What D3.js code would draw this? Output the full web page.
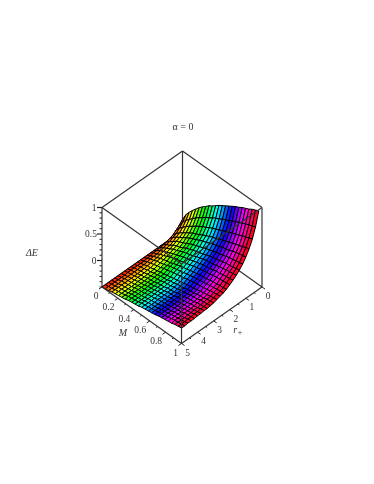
<!DOCTYPE html>
<html>
<head>
<meta charset="utf-8">
<style>
  html, body { margin:0; padding:0; background:#fff; }
  svg { display:block; filter:blur(.35px); }
  text { font-family:"Liberation Serif", serif; fill:#333; }
</style>
<script src="https://d3js.org/d3.v7.min.js"></script>
</head>
<body>
<div id="plot"></div>
<script>
// ---- data ----
const massValues = [0,.0417,.0833,.125,.1667,.2083,.25,.2917,.3333,.375,.4167,.4583,.5,.5417,.5833,.625,.6667,.7083,.75,.7917,.8333,.875,.9167,.9583,1];
const radiusValues = [.2,.4,.6,.8,1,1.2,1.4,1.6,1.8,2,2.2,2.4,2.6,2.8,3,3.2,3.4,3.6,3.8,4,4.2,4.4,4.6,4.8,5];
// one row per radius, one column per mass
const deltaE = [
[-.50,-.20,-.07,.02,.10,.17,.24,.30,.35,.41,.45,.50,.55,.59,.63,.67,.71,.75,.78,.82,.85,.88,.92,.95,.98],
[-.50,-.27,-.17,-.09,-.03,.03,.09,.14,.18,.23,.27,.31,.35,.38,.42,.45,.48,.52,.55,.58,.61,.64,.67,.69,.72],
[-.50,-.32,-.24,-.18,-.12,-.07,-.03,.02,.06,.10,.13,.17,.20,.23,.26,.29,.32,.35,.38,.40,.43,.46,.48,.51,.53],
[-.50,-.37,-.30,-.24,-.20,-.15,-.11,-.07,-.04,-.01,.03,.06,.09,.12,.14,.17,.20,.22,.25,.27,.30,.32,.34,.37,.39],
[-.50,-.39,-.33,-.28,-.24,-.20,-.16,-.12,-.09,-.06,-.03,.00,.02,.05,.08,.10,.12,.15,.16,.18,.21,.23,.25,.26,.28],
[-.50,-.42,-.36,-.32,-.27,-.24,-.21,-.18,-.14,-.11,-.09,-.06,-.04,-.01,.01,.03,.06,.07,.09,.11,.13,.14,.16,.17,.19],
[-.50,-.43,-.38,-.35,-.30,-.27,-.25,-.22,-.18,-.16,-.13,-.11,-.09,-.07,-.04,-.02,.00,.01,.03,.05,.07,.07,.09,.10,.12],
[-.50,-.44,-.40,-.36,-.33,-.29,-.27,-.24,-.21,-.19,-.17,-.15,-.12,-.10,-.08,-.06,-.05,-.04,-.02,.00,.01,.03,.04,.05,.06],
[-.50,-.45,-.41,-.38,-.35,-.32,-.29,-.27,-.24,-.22,-.20,-.18,-.16,-.14,-.12,-.10,-.09,-.08,-.06,-.04,-.04,-.02,-.01,.00,.01],
[-.50,-.45,-.43,-.39,-.37,-.34,-.31,-.29,-.26,-.25,-.23,-.21,-.19,-.17,-.15,-.14,-.12,-.11,-.10,-.08,-.07,-.06,-.05,-.04,-.03],
[-.50,-.47,-.43,-.41,-.38,-.36,-.34,-.33,-.30,-.28,-.26,-.24,-.23,-.21,-.19,-.18,-.16,-.16,-.14,-.13,-.11,-.11,-.09,-.09,-.07],
[-.50,-.47,-.44,-.42,-.39,-.38,-.36,-.34,-.31,-.30,-.28,-.27,-.25,-.23,-.22,-.20,-.19,-.18,-.17,-.15,-.14,-.13,-.12,-.11,-.10],
[-.50,-.48,-.45,-.43,-.41,-.39,-.38,-.35,-.34,-.32,-.30,-.29,-.27,-.26,-.24,-.23,-.21,-.20,-.19,-.18,-.17,-.15,-.14,-.13,-.12],
[-.50,-.48,-.46,-.44,-.43,-.41,-.40,-.38,-.37,-.35,-.34,-.32,-.31,-.29,-.28,-.26,-.25,-.24,-.22,-.21,-.19,-.18,-.17,-.15,-.14],
[-.50,-.48,-.46,-.45,-.43,-.42,-.40,-.39,-.37,-.36,-.35,-.33,-.32,-.30,-.29,-.28,-.26,-.25,-.24,-.22,-.21,-.20,-.18,-.17,-.16],
[-.50,-.48,-.47,-.45,-.44,-.42,-.41,-.39,-.38,-.37,-.35,-.34,-.33,-.31,-.30,-.28,-.27,-.26,-.24,-.23,-.22,-.20,-.19,-.18,-.17],
[-.50,-.48,-.47,-.46,-.44,-.43,-.41,-.40,-.39,-.37,-.36,-.35,-.33,-.32,-.31,-.29,-.28,-.27,-.25,-.24,-.23,-.21,-.20,-.19,-.18],
[-.50,-.48,-.47,-.46,-.44,-.43,-.42,-.40,-.39,-.38,-.36,-.35,-.34,-.32,-.31,-.30,-.28,-.27,-.26,-.25,-.23,-.22,-.21,-.19,-.18],
[-.50,-.49,-.47,-.46,-.45,-.43,-.42,-.41,-.39,-.38,-.37,-.35,-.34,-.33,-.32,-.30,-.29,-.28,-.26,-.25,-.24,-.23,-.21,-.20,-.19],
[-.50,-.49,-.47,-.46,-.45,-.44,-.42,-.41,-.40,-.38,-.37,-.36,-.34,-.33,-.32,-.31,-.29,-.28,-.27,-.26,-.24,-.23,-.22,-.20,-.19],
[-.50,-.49,-.47,-.46,-.45,-.44,-.42,-.41,-.40,-.39,-.37,-.36,-.35,-.33,-.32,-.31,-.30,-.28,-.27,-.26,-.25,-.23,-.22,-.21,-.20],
[-.50,-.49,-.48,-.46,-.45,-.44,-.43,-.41,-.40,-.39,-.38,-.36,-.35,-.34,-.33,-.31,-.30,-.29,-.28,-.26,-.25,-.24,-.23,-.21,-.20],
[-.50,-.49,-.48,-.46,-.45,-.44,-.43,-.41,-.40,-.39,-.38,-.36,-.35,-.34,-.33,-.32,-.30,-.29,-.28,-.26,-.25,-.24,-.23,-.22,-.20],
[-.50,-.49,-.48,-.46,-.45,-.44,-.43,-.41,-.40,-.39,-.38,-.36,-.35,-.34,-.33,-.32,-.30,-.29,-.28,-.27,-.25,-.24,-.23,-.22,-.21],
[-.50,-.49,-.48,-.46,-.45,-.44,-.43,-.42,-.40,-.39,-.38,-.37,-.35,-.34,-.33,-.32,-.31,-.29,-.28,-.27,-.26,-.25,-.23,-.22,-.21]
];
const zTickLabels = [0, .5, 1];
const zMinorTicks = [-.5,-.4,-.3,-.2,-.1,.1,.2,.3,.4,.6,.7,.8,.9];
const massTickLabels = [0,.2,.4,.6,.8,1];
const massMinorTicks = [.1,.3,.5,.7,.9];
const radiusTickLabels = [0,1,2,3,4,5];
const radiusMinorTicks = [.5,1.5,2.5,3.5,4.5];

// ---- projection: oblique box view, built from three linear scales ----
const width = 374, height = 484;
const originX = 102, originY = 287;   // corner M=0, r=5, z=-0.5
const massX = d3.scaleLinear().domain([0,1]).range([0,79.5]);
const massY = d3.scaleLinear().domain([0,1]).range([0,56.5]);
const radX  = d3.scaleLinear().domain([5,0]).range([0,80.5]);
const radY  = d3.scaleLinear().domain([5,0]).range([0,-56.5]);
const zY    = d3.scaleLinear().domain([-.5,1]).range([0,-79.5]);

function project(m, r, z) {
    return [originX + massX(m) + radX(r), originY + massY(m) + radY(r) + zY(z)];
}

const svg = d3.select("#plot").append("svg").attr("width", width).attr("height", height);
const line = d3.line();

function edge(g, a, b) {
    g.append("path").attr("d", line([project(...a), project(...b)]))
        .attr("fill","none").attr("stroke","#333").attr("stroke-width",1.2);
}

// ---- back of the box, behind the surface ----
const back = svg.append("g");
edge(back, [0,0,-.5], [0,0,1]);
edge(back, [0,0,1], [0,5,1]);
edge(back, [0,0,1], [1,0,1]);
edge(back, [0,0,-.5], [0,5,-.5]);
edge(back, [0,0,-.5], [1,0,-.5]);
edge(back, [1,0,-.5], [1,0,1]);
edge(back, [0,5,-.5], [0,5,1]);

// ---- surface: painted back to front ----
const cells = [];
radiusValues.slice(0,-1).forEach((r, i) => {
    massValues.slice(0,-1).forEach((m, j) => {
        cells.push({
            i, j,
            mid: (m + massValues[j+1]) / 2,
            pts: [
                project(m, r, deltaE[i][j]),
                project(massValues[j+1], r, deltaE[i][j+1]),
                project(massValues[j+1], radiusValues[i+1], deltaE[i+1][j+1]),
                project(m, radiusValues[i+1], deltaE[i+1][j])
            ]
        });
    });
});
cells.sort((a,b) => (a.i + a.j) - (b.i + b.j));

svg.append("g").selectAll("path")
    .data(cells)
    .enter().append("path")
    .attr("d", d => line(d.pts) + "Z")
    .attr("fill", d => d3.hsl(d.mid * 360, 1, .5).formatHex())
    .attr("stroke", "#000")
    .attr("stroke-width", 1)
    .attr("stroke-linejoin", "round");

// ---- front of the box, over the surface ----
const front = svg.append("g");
edge(front, [1,5,-.5], [1,5,1]);
edge(front, [1,5,1], [0,5,1]);
edge(front, [1,5,1], [1,0,1]);
edge(front, [0,5,-.5], [1,5,-.5]);
edge(front, [1,5,-.5], [1,0,-.5]);

// ---- ticks ----
const ticks = svg.append("g").attr("stroke","#222").attr("fill","none");
function tick(p, dx, dy, w) {
    ticks.append("path").attr("d", line([p, [p[0]+dx, p[1]+dy]])).attr("stroke-width", w);
}
zTickLabels.forEach(z => tick(project(0,5,z), -5, 0, 1.2));
zMinorTicks.forEach(z => tick(project(0,5,z), -2.5, 0, 1));
massTickLabels.forEach(m => tick(project(m,5,-.5), -3, 2, 1));
massMinorTicks.forEach(m => tick(project(m,5,-.5), -1.5, 1, 1));
radiusTickLabels.forEach(r => tick(project(1,r,-.5), 3, 2, 1));
radiusMinorTicks.forEach(r => tick(project(1,r,-.5), 1.5, 1, 1));

// ---- tick labels ----
const labels = svg.append("g").attr("font-size", 9.5).attr("text-anchor","middle");
zTickLabels.forEach(z => {
    const p = project(0,5,z);
    labels.append("text").attr("x", p[0]-(z === .5 ? 11 : 8)).attr("y", p[1]+3).text(z);
});
massTickLabels.forEach(m => {
    const p = project(m,5,-.5);
    labels.append("text").attr("x", p[0]-3.5).attr("y", p[1]+12).attr("text-anchor","end").text(m);
});
radiusTickLabels.forEach(r => {
    const p = project(1,r,-.5);
    labels.append("text").attr("x", p[0]+6).attr("y", p[1]+12).text(r);
});

// ---- titles ----
svg.append("text").attr("x",183).attr("y",130).attr("text-anchor","middle")
    .attr("font-size",10).text("α = 0");
svg.append("text").attr("x",32).attr("y",256).attr("text-anchor","middle")
    .attr("font-size",10).attr("font-style","italic").text("ΔE");
svg.append("text").attr("x",123).attr("y",336).attr("text-anchor","middle")
    .attr("font-size",10).attr("font-style","italic").text("M");
const rLabel = svg.append("text").attr("x",238).attr("y",333).attr("text-anchor","middle")
    .attr("font-size",10).attr("font-style","italic");
rLabel.append("tspan").text("r");
rLabel.append("tspan").attr("dy",2).attr("font-size",8).text("+");
</script>
</body>
</html>
